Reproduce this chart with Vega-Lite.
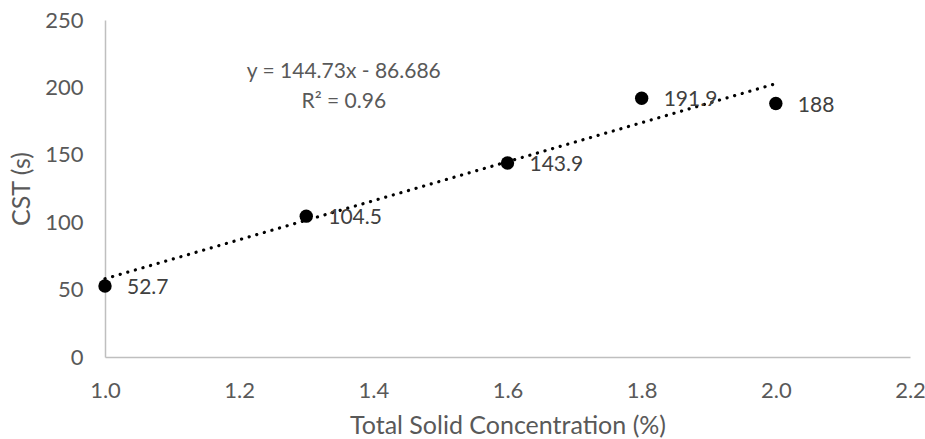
{
  "$schema": "https://vega.github.io/schema/vega-lite/v6.json",
  "autosize": {"type": "none"},
  "width": 805,
  "height": 337,
  "padding": {"left": 105, "top": 20, "right": 15, "bottom": 82},
  "background": "white",
  "config": {
    "font": "Lato",
    "view": {"stroke": null},
    "axis": {
      "grid": false,
      "ticks": false,
      "labelFlush": false,
      "domainColor": "#BFBFBF",
      "domainWidth": 1.5,
      "labelColor": "#595959",
      "labelFont": "Lato",
      "labelFontSize": 22,
      "titleColor": "#595959",
      "titleFont": "Lato",
      "titleFontSize": 25,
      "titleFontWeight": "normal"
    }
  },
  "datasets": {
    "cst": [
      {"ts": 1.0, "cst": 52.7},
      {"ts": 1.3, "cst": 104.5},
      {"ts": 1.6, "cst": 143.9},
      {"ts": 1.8, "cst": 191.9},
      {"ts": 2.0, "cst": 188}
    ],
    "trend": [
      {"ts": 1.0, "cst": 58.044},
      {"ts": 2.0, "cst": 202.774}
    ],
    "equation": [
      {"ts": 1.356, "cst": 211.5, "text": "y = 144.73x - 86.686"},
      {"ts": 1.356, "cst": 189.3, "text": "R² = 0.96"}
    ]
  },
  "layer": [
    {
      "data": {"name": "trend"},
      "mark": {"type": "line", "color": "black", "strokeWidth": 3.2, "strokeDash": [0.1, 7.8], "strokeCap": "round"},
      "encoding": {
        "x": {"field": "ts", "type": "quantitative",
              "scale": {"domain": [1.0, 2.2], "nice": false, "zero": false},
              "axis": {"values": [1.0, 1.2, 1.4, 1.6, 1.8, 2.0, 2.2], "format": ".1f", "labelPadding": 23, "title": "Total Solid Concentration (%)", "titlePadding": 12}},
        "y": {"field": "cst", "type": "quantitative",
              "scale": {"domain": [0, 250], "nice": false},
              "axis": {"values": [0, 50, 100, 150, 200, 250], "labelPadding": 22, "title": "CST (s)", "titlePadding": 10}}
      }
    },
    {
      "data": {"name": "cst"},
      "mark": {"type": "circle", "color": "black", "opacity": 1, "size": 180},
      "encoding": {
        "x": {"field": "ts", "type": "quantitative"},
        "y": {"field": "cst", "type": "quantitative"}
      }
    },
    {
      "data": {"name": "cst"},
      "mark": {"type": "text", "align": "left", "baseline": "middle", "dx": 22, "dy": 2, "fontSize": 21, "color": "#404040", "font": "Lato"},
      "encoding": {
        "x": {"field": "ts", "type": "quantitative"},
        "y": {"field": "cst", "type": "quantitative"},
        "text": {"field": "cst", "type": "quantitative", "format": "~f"}
      }
    },
    {
      "data": {"name": "equation"},
      "mark": {"type": "text", "align": "center", "baseline": "middle", "fontSize": 21, "color": "#595959", "font": "Lato"},
      "encoding": {
        "x": {"field": "ts", "type": "quantitative"},
        "y": {"field": "cst", "type": "quantitative"},
        "text": {"field": "text", "type": "nominal"}
      }
    }
  ]
}
